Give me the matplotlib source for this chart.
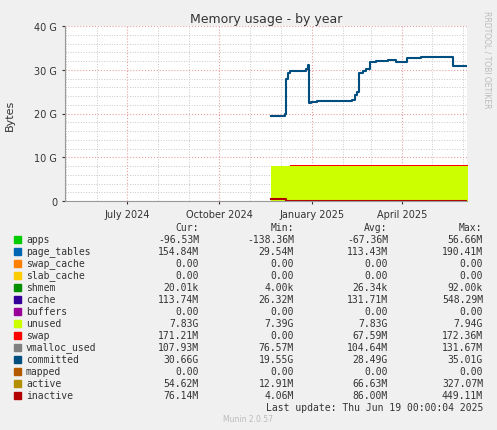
import matplotlib
matplotlib.use("Agg")
import matplotlib.pyplot as plt
import matplotlib.dates as mdates
import pandas as pd

# committed line breakpoints (date, GB)
committed_dates = ["2024-11-21", "2024-12-05", "2024-12-06", "2024-12-08", "2024-12-10",
                   "2024-12-26", "2024-12-28", "2024-12-29", "2024-12-31", "2025-01-06",
                   "2025-02-10", "2025-02-13", "2025-02-15", "2025-02-17", "2025-02-21",
                   "2025-02-24", "2025-02-28", "2025-03-06", "2025-03-18", "2025-03-26",
                   "2025-04-06", "2025-04-20", "2025-05-20", "2025-05-22", "2025-06-06"]
committed_vals = [19.5, 19.8, 28.0, 29.2, 29.7,
                  30.2, 31.2, 22.5, 22.7, 22.9,
                  23.2, 24.2, 25.0, 29.3, 29.7,
                  30.2, 31.8, 32.0, 32.3, 31.8,
                  32.7, 32.9, 33.0, 30.8, 30.6]
unused_dates = ["2024-11-21", "2025-06-06"]
unused_vals = [8.0, 8.0]
swap_dates = ["2024-11-21", "2024-12-10", "2025-06-06"]
swap_vals = [0.0, 0.17, 0.17]
inactive_dates = ["2024-11-21", "2024-12-05", "2024-12-06", "2025-06-06"]
inactive_vals = [0.45, 0.45, 0.08, 0.08]

legend_names = ["apps", "page_tables", "swap_cache", "slab_cache", "shmem", "cache",
                "buffers", "unused", "swap", "vmalloc_used", "committed", "mapped",
                "active", "inactive"]
legend_colors = ["#00CC00", "#0066B3", "#FF8000", "#FFCC00", "#008F00", "#330099",
                 "#990099", "#CCFF00", "#FF0000", "#808080", "#004D80", "#B35A00",
                 "#B38F00", "#B30000"]
cur = ["-96.53M", "154.84M", "0.00", "0.00", "20.01k", "113.74M", "0.00", "7.83G",
       "171.21M", "107.93M", "30.66G", "0.00", "54.62M", "76.14M"]
mins = ["-138.36M", "29.54M", "0.00", "0.00", "4.00k", "26.32M", "0.00", "7.39G",
        "0.00", "76.57M", "19.55G", "0.00", "12.91M", "4.06M"]
avgs = ["-67.36M", "113.43M", "0.00", "0.00", "26.34k", "131.71M", "0.00", "7.83G",
        "67.59M", "104.64M", "28.49G", "0.00", "66.63M", "86.00M"]
maxs = ["56.66M", "190.41M", "0.00", "0.00", "92.00k", "548.29M", "0.00", "7.94G",
        "172.36M", "131.67M", "35.01G", "0.00", "327.07M", "449.11M"]

W, H = 497, 431
fig = plt.figure(figsize=(W / 100, H / 100), dpi=100, facecolor="#F0F0F0")
ax = fig.add_axes([65 / W, 1 - 202 / H, 402 / W, 175 / H])
ax.set_facecolor("white")

cd = pd.to_datetime(committed_dates)
ud = pd.to_datetime(unused_dates)
sd = pd.to_datetime(swap_dates)
idt = pd.to_datetime(inactive_dates)

ax.fill_between(ud, 0, unused_vals, step="post", color="#CCFF00", lw=0)
top = [8.0 + s for s in swap_vals]
ax.fill_between(sd, 8.0, top, step="post", color="#FF0000", lw=0)
ax.step(idt, inactive_vals, where="post", color="#B30000", lw=1.5)
ax.step(cd, committed_vals, where="post", color="#004D80", lw=1.5)

ax.set_xlim(pd.Timestamp("2024-04-30"), pd.Timestamp("2025-06-05"))
ax.set_ylim(0, 40)
ax.set_yticks([0, 10, 20, 30, 40])
ax.set_yticklabels(["0", "10 G", "20 G", "30 G", "40 G"])
ax.set_yticks(range(0, 41, 2), minor=True)
ax.xaxis.set_major_locator(mdates.MonthLocator(bymonth=[1, 4, 7, 10]))
ax.xaxis.set_major_formatter(mdates.DateFormatter("%B %Y"))
ax.xaxis.set_minor_locator(mdates.MonthLocator())
ax.grid(which="minor", color="#C8C8C8", ls=":", lw=0.7)
ax.grid(which="major", color="#E8A0A0", ls=":", lw=0.8)
ax.set_axisbelow(True)
ax.tick_params(labelsize=7, colors="#333333", length=2)
ax.tick_params(which="minor", length=0)
for s in ["top", "right"]:
    ax.spines[s].set_visible(False)
ax.spines["left"].set_color("#999999")
ax.spines["bottom"].set_color("#999999")

fig.text(266 / W, 1 - 20 / H, "Memory usage - by year", ha="center", va="center",
         fontsize=9, color="#333333")
fig.text(10 / W, 1 - 115 / H, "Bytes", rotation=90, ha="center", va="center",
         fontsize=8, color="#333333")
fig.text(487 / W, 1 - 60 / H, "RRDTOOL / TOBI OETIKER", rotation=270, ha="center",
         va="center", fontsize=5.5, color="#BBBBBB")

mono = "DejaVu Sans Mono"
fs = 7
hy = 1 - 228 / H
for x, lab in [(187, "Cur:"), (282, "Min:"), (376, "Avg:"), (470, "Max:")]:
    fig.text(x / W, hy, lab, ha="center", va="center", family=mono, fontsize=fs, color="#333333")
for i, name in enumerate(legend_names):
    y = 1 - (240 + 12 * i) / H
    fig.patches.append(plt.Rectangle((14 / W, y - 3.5 / H), 7 / W, 7 / H,
                                     transform=fig.transFigure, color=legend_colors[i]))
    fig.text(26 / W, y, name, ha="left", va="center", family=mono, fontsize=fs, color="#333333")
    for x, col in [(199, cur), (294, mins), (388, avgs), (483, maxs)]:
        fig.text(x / W, y, col[i], ha="right", va="center", family=mono, fontsize=fs,
                 color="#333333")
fig.text(483 / W, 1 - 408 / H, "Last update: Thu Jun 19 00:00:04 2025", ha="right",
         va="center", family=mono, fontsize=fs, color="#333333")
fig.text(248 / W, 1 - 420 / H, "Munin 2.0.57", ha="center", va="center", fontsize=5.5,
         color="#BBBBBB")

fig.savefig("out.png", dpi=100, facecolor=fig.get_facecolor())
